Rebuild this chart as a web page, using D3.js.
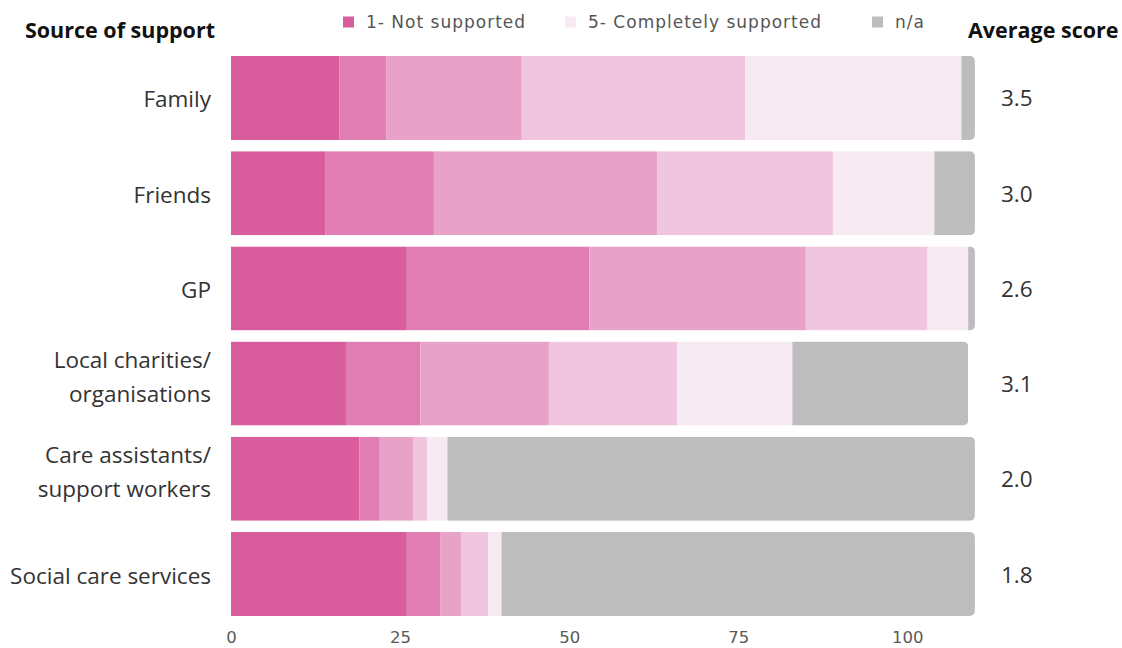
<!DOCTYPE html>
<html>
<head>
<meta charset="utf-8">
<script src="https://cdn.jsdelivr.net/npm/d3@7"></script>
<style>
  html, body { margin: 0; padding: 0; background: #fff; }
  svg { display: block; }
</style>
</head>
<body>
<svg id="chart" width="1122" height="648"></svg>
<script>
// Sources of support, top to bottom
const categories = [
  ["Family"],
  ["Friends"],
  ["GP"],
  ["Local charities/", "organisations"],
  ["Care assistants/", "support workers"],
  ["Social care services"]
];

// Response levels (1 = not supported ... 5 = completely supported, plus n/a)
const levels = ["1", "2", "3", "4", "5", "n/a"];

// Number of respondents at each level, per source
const score1 = [16, 14, 26, 17, 19, 26];
const score2 = [7, 16, 27, 11, 3, 5];
const score3 = [20, 33, 32, 19, 5, 3];
const score4 = [33, 26, 18, 19, 2, 4];
const score5 = [32, 15, 6, 17, 3, 2];
const notApplicable = [2, 6, 1, 26, 78, 70];

const averageScore = ["3.5", "3.0", "2.6", "3.1", "2.0", "1.8"];

const xTicks = [0, 25, 50, 75, 100];

const legendItems = [
  { label: "1- Not supported", level: "1" },
  { label: "5- Completely supported", level: "5" },
  { label: "n/a", level: "n/a" }
];

const colour = d3.scaleOrdinal()
  .domain(levels)
  .range(["#d95c9c", "#e07db2", "#e8a2c8", "#f0c6de", "#f8eaf3", "#bdbdbd"]);

const rows = categories.map((c, i) => ({
  key: c.join(" "),
  lines: c,
  values: [score1[i], score2[i], score3[i], score4[i], score5[i], notApplicable[i]],
  avg: averageScore[i]
}));

const svg = d3.select("#chart");

const x = d3.scaleLinear().domain([0, 100]).range([231, 907.3]);
const y = d3.scaleBand()
  .domain(rows.map(r => r.key))
  .range([56, 616])
  .paddingInner(0.118)
  .paddingOuter(0);

const labelFont = "'Open Sans', 'Noto Sans', sans-serif";
const smallFont = "'DejaVu Sans', Verdana, sans-serif";

// Clip each bar so that only its right end is rounded
const defs = svg.append("defs");
rows.forEach((r, i) => {
  const total = d3.sum(r.values);
  defs.append("clipPath").attr("id", "bar-clip-" + i)
    .append("rect")
    .attr("x", x(0) - 10)
    .attr("y", y(r.key))
    .attr("width", x(total) - x(0) + 10)
    .attr("height", y.bandwidth())
    .attr("rx", 5).attr("ry", 5);
});

const barGroups = svg.append("g").selectAll("g.bar")
  .data(rows)
  .join("g")
  .attr("class", "bar")
  .attr("clip-path", (d, i) => `url(#bar-clip-${i})`);

barGroups.selectAll("rect")
  .data(r => {
    let acc = 0;
    return r.values.map((v, j) => {
      const seg = { key: r.key, level: levels[j], x0: acc, x1: acc + v };
      acc += v;
      return seg;
    });
  })
  .join("rect")
  .attr("x", d => x(d.x0))
  .attr("width", d => x(d.x1) - x(d.x0))
  .attr("y", d => y(d.key))
  .attr("height", y.bandwidth())
  .attr("fill", d => colour(d.level));

// Category labels on the left
const catLabels = svg.append("g").selectAll("text.cat")
  .data(rows)
  .join("text")
  .attr("class", "cat")
  .attr("text-anchor", "end")
  .attr("font-family", labelFont)
  .attr("font-size", 22.5)
  .attr("fill", "#333");

catLabels.each(function(d) {
  const cy = y(d.key) + y.bandwidth() / 2;
  const n = d.lines.length;
  const lh = 34;
  // baseline of a single line sits a little below the row centre;
  // stacked lines are centred a bit higher
  const mid = n === 1 ? cy + 9.5 : cy + 1;
  d3.select(this).selectAll("tspan")
    .data(d.lines)
    .join("tspan")
    .attr("x", 211)
    .attr("y", (t, k) => mid + (k - (n - 1) / 2) * lh)
    .text(t => t);
});

// Average score column
svg.append("g").selectAll("text.avg")
  .data(rows)
  .join("text")
  .attr("class", "avg")
  .attr("x", 1001)
  .attr("y", d => y(d.key) + y.bandwidth() / 2 + 8.5)
  .attr("font-family", labelFont)
  .attr("font-size", 22.5)
  .attr("fill", "#333")
  .text(d => d.avg);

// Column headings
svg.append("text")
  .attr("x", 215).attr("y", 38)
  .attr("text-anchor", "end")
  .attr("font-family", labelFont)
  .attr("font-weight", "bold")
  .attr("font-size", 21.5)
  .attr("fill", "#111")
  .text("Source of support");

svg.append("text")
  .attr("x", 968).attr("y", 38)
  .attr("font-family", labelFont)
  .attr("font-weight", "bold")
  .attr("font-size", 21.5)
  .attr("fill", "#111")
  .text("Average score");

// Legend
const legendX = [343, 565, 872];
const legend = svg.append("g").selectAll("g.legend")
  .data(legendItems)
  .join("g")
  .attr("class", "legend")
  .attr("transform", (d, i) => `translate(${legendX[i]},22)`);

legend.append("rect")
  .attr("x", 0).attr("y", -5.5)
  .attr("width", 11).attr("height", 11)
  .attr("fill", d => colour(d.level));

legend.append("text")
  .attr("x", 23).attr("y", 6)
  .attr("font-family", smallFont)
  .attr("font-size", 17)
  .attr("letter-spacing", 1)
  .attr("fill", "#555")
  .text(d => d.label);

// Value axis
const axis = svg.append("g")
  .attr("transform", `translate(0,${y.range()[1]})`)
  .call(d3.axisBottom(x).tickValues(xTicks).tickSize(0).tickPadding(15));
axis.select(".domain").remove();
axis.selectAll("text")
  .attr("font-family", smallFont)
  .attr("font-size", 16.5)
  .attr("fill", "#5a5a5a");
</script>
</body>
</html>
